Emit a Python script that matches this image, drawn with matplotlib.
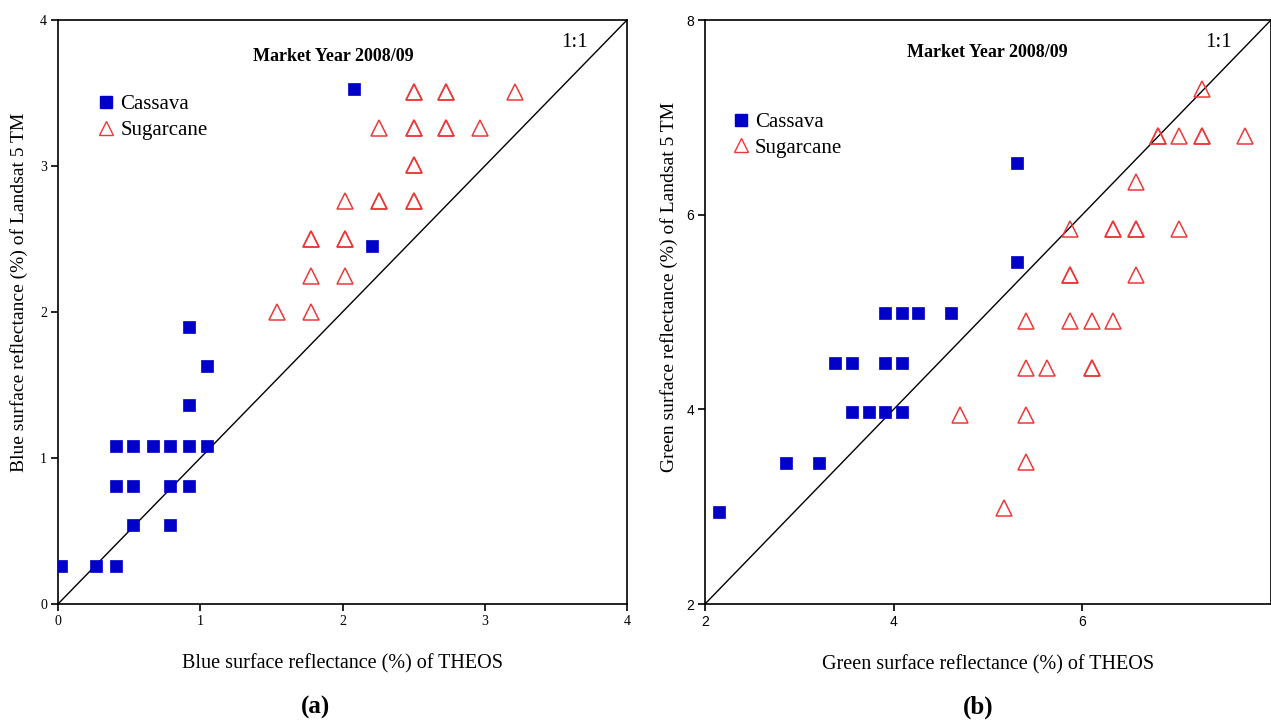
import matplotlib
matplotlib.use("Agg")
import matplotlib.pyplot as plt
from matplotlib.lines import Line2D

plt.rcParams['font.family'] = ['Liberation Serif', 'DejaVu Serif']

# Panel (a): blue band reflectance (%)
blue_cassava_theos = [0.02, 0.27, 0.41, 0.53, 0.79, 0.41, 0.53, 0.79, 0.92, 0.41, 0.53, 0.67,
                      0.79, 0.92, 1.05, 0.92, 1.05, 0.92, 2.21, 2.08]
blue_cassava_tm = [0.26, 0.26, 0.26, 0.54, 0.54, 0.81, 0.81, 0.81, 0.81, 1.08, 1.08, 1.08,
                   1.08, 1.08, 1.08, 1.36, 1.63, 1.90, 2.45, 3.53]
blue_sugar_theos = [1.54, 1.78, 1.78, 2.02, 1.78, 1.78, 2.02, 2.02, 2.02, 2.26, 2.26, 2.50, 2.50,
                    2.50, 2.50, 2.26, 2.50, 2.50, 2.73, 2.73, 2.97, 2.50, 2.50, 2.73, 2.73, 3.21]
blue_sugar_tm = [2.00, 2.00, 2.25, 2.25, 2.50, 2.50, 2.50, 2.50, 2.76, 2.76, 2.76, 2.76, 2.76,
                 3.01, 3.01, 3.26, 3.26, 3.26, 3.26, 3.26, 3.26, 3.51, 3.51, 3.51, 3.51, 3.51]

# Panel (b): green band reflectance (%)
green_cassava_theos = [2.15, 2.86, 3.21, 3.56, 3.74, 3.91, 4.09, 3.38, 3.56, 3.91, 4.09,
                       3.91, 4.09, 4.26, 4.61, 5.31, 5.31]
green_cassava_tm = [2.95, 3.45, 3.45, 3.97, 3.97, 3.97, 3.97, 4.48, 4.48, 4.48, 4.48,
                    4.99, 4.99, 4.99, 4.99, 5.51, 6.53]
green_sugar_theos = [5.17, 5.40, 5.40, 4.70, 5.40, 5.63, 6.10, 6.10, 5.40, 5.87, 6.10, 6.33,
                     5.87, 5.87, 6.57, 5.87, 6.33, 6.33, 6.57, 6.57, 7.03, 6.57, 6.80, 6.80,
                     7.03, 7.27, 7.27, 7.72, 7.27]
green_sugar_tm = [2.99, 3.46, 3.94, 3.94, 4.42, 4.42, 4.42, 4.42, 4.91, 4.91, 4.91, 4.91,
                  5.38, 5.38, 5.38, 5.85, 5.85, 5.85, 5.85, 5.85, 5.85, 6.34, 6.81, 6.81,
                  6.81, 6.81, 6.81, 6.81, 7.29]

blue_ticks = [0, 1, 2, 3, 4]
green_xticks = [2, 4, 6]
green_yticks = [2, 4, 6, 8]

CASSAVA_COLOR = '#0000C8'
SUGAR_COLOR = '#EE3838'

fig = plt.figure(figsize=(12.71, 7.25), dpi=100)
ax_a = fig.add_axes([58 / 1271, 121 / 725, 569 / 1271, 584 / 725])
ax_b = fig.add_axes([705 / 1271, 121 / 725, 566 / 1271, 584 / 725])


def draw_panel(ax, cx, cy, sx, sy, lim, xticks, yticks, tick_family, xlabel, ylabel,
               ylabel_xy, leg_anchor, title_xy, tag, tag_x):
    ax.plot(lim, lim, color='black', lw=1.0, zorder=1)
    ax.plot(cx, cy, ls='none', marker='s', ms=8.7, mfc=CASSAVA_COLOR, mec=CASSAVA_COLOR,
            mew=0.5, zorder=3)
    ax.plot(sx, sy, ls='none', marker='^', ms=11, mfc='none', mec=SUGAR_COLOR,
            mew=1.1, zorder=3)
    ax.set_xlim(lim)
    ax.set_ylim(lim)
    ax.set_xticks(xticks)
    ax.set_yticks(yticks)
    ax.tick_params(direction='out', length=5, width=1.2, labelsize=10, pad=3)
    for lbl in ax.get_xticklabels() + ax.get_yticklabels():
        lbl.set_family(tick_family)
    for sp in ax.spines.values():
        sp.set_linewidth(1.2)
    ax.set_xlabel(xlabel, fontsize=14.5, labelpad=19)
    ax.set_ylabel(ylabel, fontsize=14)
    ax.yaxis.set_label_coords(*ylabel_xy)
    ax.text(title_xy[0], title_xy[1], 'Market Year 2008/09', transform=ax.transAxes,
            ha='center', va='center', fontsize=13, fontweight='bold')
    ax.text(0.907, 0.961, '1:1', transform=ax.transAxes, ha='center', va='center', fontsize=15)
    handles = [
        Line2D([], [], ls='none', marker='s', ms=8.5, mfc=CASSAVA_COLOR, mec=CASSAVA_COLOR),
        Line2D([], [], ls='none', marker='^', ms=10.5, mfc='none', mec=SUGAR_COLOR, mew=1.0),
    ]
    ax.legend(handles, ['Cassava', 'Sugarcane'], loc='upper left', bbox_to_anchor=leg_anchor,
              frameon=False, fontsize=15, handlelength=0.8, handletextpad=0.3,
              labelspacing=0.3, borderpad=0, borderaxespad=0)
    fig.text(tag_x, 18 / 725, tag, ha='center', va='center', fontsize=18, fontweight='bold')


draw_panel(ax_a, blue_cassava_theos, blue_cassava_tm, blue_sugar_theos, blue_sugar_tm,
           (0, 4), blue_ticks, blue_ticks, 'Liberation Serif',
           'Blue surface reflectance (%) of THEOS',
           'Blue surface reflectance (%) of Landsat 5 TM',
           (-0.053, 0.534), (0.069, 0.872), (0.483, 0.938), '(a)', 315 / 1271)
draw_panel(ax_b, green_cassava_theos, green_cassava_tm, green_sugar_theos, green_sugar_tm,
           (2, 8), green_xticks, green_yticks, 'Liberation Sans',
           'Green surface reflectance (%) of THEOS',
           'Green surface reflectance (%) of Landsat 5 TM',
           (-0.048, 0.543), (0.048, 0.842), (0.498, 0.945), '(b)', 978 / 1271)

fig.savefig('out.png', dpi=100)
